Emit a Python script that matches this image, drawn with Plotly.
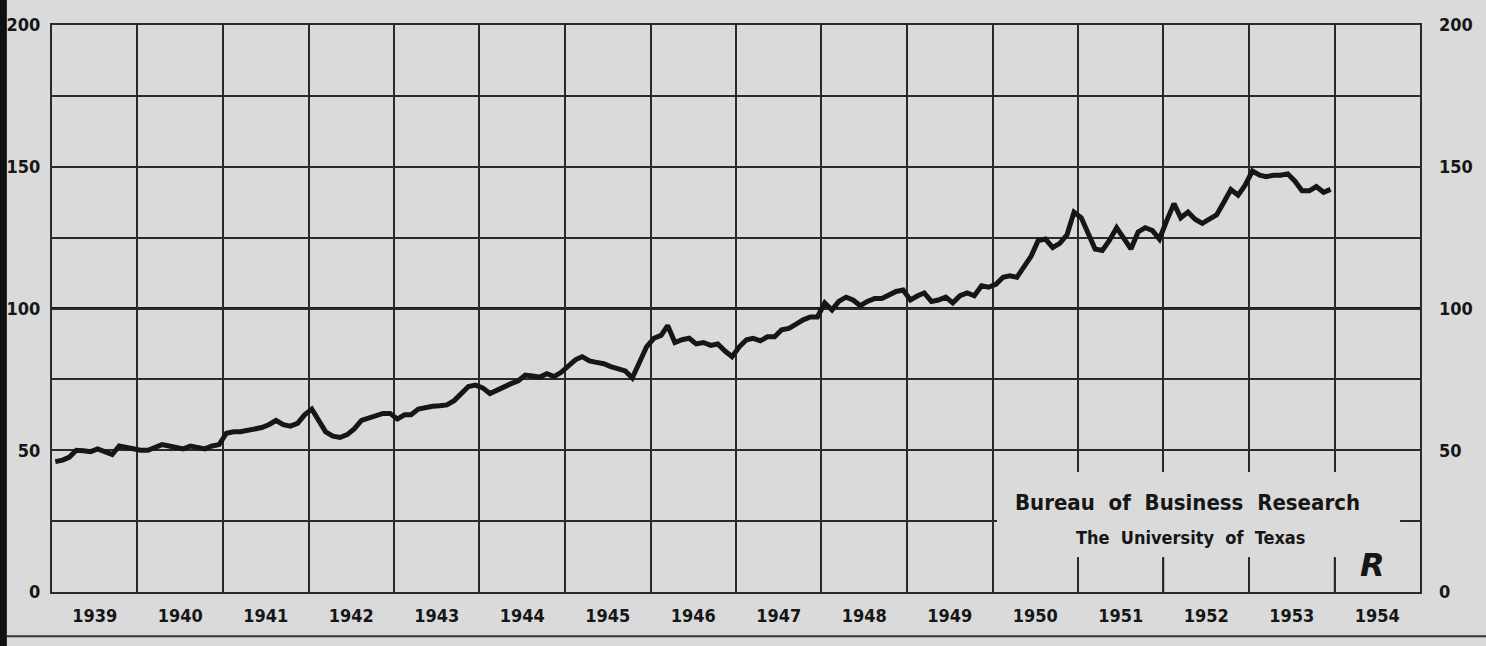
import pandas as pd
import plotly.graph_objects as go

# Monthly index values (Jan..Dec)
v1939 = [46, 46.5, 47.5, 50, 49.8, 49.5, 50.5, 49.5, 48.5, 51.5, 51, 50.5]
v1940 = [50, 50, 51, 52, 51.5, 51, 50.5, 51.5, 51, 50.5, 51.5, 52]
v1941 = [56, 56.5, 56.5, 57, 57.5, 58, 59, 60.5, 59, 58.5, 59.5, 62.5]
v1942 = [64.5, 60, 56.5, 55, 54.5, 55.5, 57.5, 60.5, 61.5, 62, 63, 63]
v1943 = [61, 62.5, 62.5, 64.5, 65.2, 65.5, 65.7, 66, 67.5, 70, 72.5, 73]
v1944 = [72, 70, 71.2, 72.5, 73.5, 74.5, 76.5, 76.2, 75.8, 77, 76, 77.5]
v1945 = [79.5, 82, 83, 81.5, 81, 80.5, 79.5, 78.8, 78, 75.5, 81.5, 86.5]
v1946 = [89.5, 90.5, 94, 88, 89, 89.5, 87.5, 88, 87, 87.5, 85, 83]
v1947 = [86.5, 89, 89.5, 88.6, 90, 90, 92.5, 93, 94.5, 96, 97, 97]
v1948 = [102, 99.5, 102.5, 104, 103, 101, 102.5, 103.5, 103.5, 104.5, 106, 106.5]
v1949 = [103, 104.5, 105.5, 102.5, 103, 104, 102, 104.5, 105.5, 104.5, 108, 107.5]
v1950 = [108.5, 111, 111.5, 111, 115, 118.5, 124, 124.5, 121.5, 123, 126, 134]
v1951 = [132, 126, 121, 120.5, 124, 128.5, 125, 121, 127, 128.5, 127.5, 124.5]
v1952 = [131, 137, 132, 134, 131.5, 130, 131.5, 133, 137.5, 142, 140, 143.5]
v1953 = [148.5, 147, 146.5, 147, 147, 147.5, 145, 141.5, 141.5, 143, 141, 142]

years = list(range(1939, 1954))
series_by_year = [v1939, v1940, v1941, v1942, v1943, v1944, v1945, v1946,
                  v1947, v1948, v1949, v1950, v1951, v1952, v1953]
y_ticks = [0, 25, 50, 75, 100, 125, 150, 175, 200]
y_ticktext = ["0", "", "50", "", "100", "", "150", "", "200"]

dates, values = [], []
for yr, vals in zip(years, series_by_year):
    for m, v in enumerate(vals):
        dates.append(pd.Timestamp(year=yr, month=m + 1, day=15))
        values.append(v)

BG = "#dadada"
INK = "#161616"
GRID = "#2a2a2a"
FONT = "Liberation Sans Narrow, DejaVu Sans Condensed, Arial Narrow, sans-serif"

fig = go.Figure()
fig.add_trace(go.Scatter(x=dates, y=values, mode="lines",
                         line=dict(color=INK, width=5), showlegend=False,
                         hoverinfo="skip"))
# invisible trace for right axis
fig.add_trace(go.Scatter(x=[dates[0]], y=[values[0]], yaxis="y2", mode="lines",
                         line=dict(width=0), showlegend=False, hoverinfo="skip"))

x0, x1 = "1939-01-01", "1955-01-01"

fig.update_layout(
    width=1486, height=646,
    margin=dict(l=52, r=66, t=25, b=54),
    paper_bgcolor=BG, plot_bgcolor=BG,
    font=dict(family=FONT, color=INK),
    xaxis=dict(type="date", range=[x0, x1], tick0="1939-01-01", dtick="M12",
               tickformat="%Y", ticklabelmode="period", showgrid=True,
               gridcolor=GRID, gridwidth=1.6, ticks="", showline=True,
               linecolor=GRID, linewidth=2, mirror=True, zeroline=False,
               tickfont=dict(size=18, family=FONT, weight="bold"),
               ticklabelstandoff=6, automargin=False),
    yaxis=dict(range=[0, 200], tickvals=y_ticks, ticktext=y_ticktext,
               showgrid=True, gridcolor=GRID, gridwidth=1.6, zeroline=False,
               showline=True, linecolor=GRID, linewidth=2, mirror=True,
               ticks="", tickfont=dict(size=18, family=FONT, weight="bold"),
               ticklabelstandoff=6, automargin=False),
    yaxis2=dict(range=[0, 200], tickvals=y_ticks, ticktext=y_ticktext,
                overlaying="y", side="right", showgrid=False, zeroline=False,
                ticks="", tickfont=dict(size=18, family=FONT, weight="bold"),
                ticklabelstandoff=18, automargin=False),
)

# bold 100 reference line
fig.add_shape(type="line", xref="paper", yref="y", x0=0, x1=1, y0=100, y1=100,
              line=dict(color=INK, width=3), layer="below")

# blank panel behind the credit text (grid interrupted)
fig.add_shape(type="rect", xref="x", yref="y", x0="1950-01-20", x1="1954-10-08",
              y0=12.3, y1=42.3, fillcolor=BG, line=dict(width=0), layer="above")
# short tick stubs at the bottom of the interrupted verticals
for yr in [1951, 1952, 1953, 1954]:
    fig.add_shape(type="line", xref="x", yref="y",
                  x0=f"{yr}-01-01", x1=f"{yr}-01-01", y0=0, y1=12.3,
                  line=dict(color=GRID, width=1.6), layer="above")
fig.add_shape(type="line", xref="x", yref="y", x0="1954-10-08", x1=x1,
              y0=25, y1=25, line=dict(color=GRID, width=1.6), layer="above")

# dark scan edge at left and rule at bottom
fig.add_shape(type="rect", xref="paper", yref="paper", x0=-0.04, x1=-0.033,
              y0=-0.1, y1=1.06, fillcolor="#101010", line=dict(width=0))
fig.add_shape(type="line", xref="paper", yref="paper", x0=-0.033, x1=1.05,
              y0=-0.078, y1=-0.078, line=dict(color="#333333", width=2))

fig.add_annotation(xref="paper", yref="paper", x=0.830, y=0.157,
                   xanchor="center", yanchor="middle",
                   text="<b>Bureau  of  Business  Research</b>", showarrow=False,
                   font=dict(size=22, family=FONT, color=INK))
fig.add_annotation(xref="paper", yref="paper", x=0.832, y=0.097,
                   xanchor="center", yanchor="middle",
                   text="<b>The  University  of  Texas</b>", showarrow=False,
                   font=dict(size=18, family=FONT, color=INK))
fig.add_annotation(xref="paper", yref="paper", x=0.965, y=0.048,
                   xanchor="center", yanchor="middle",
                   text="<b><i>R</i></b>", showarrow=False,
                   font=dict(size=32, family="DejaVu Sans, sans-serif", color=INK))

fig.write_html("out.html", config={"displayModeBar": False},
               post_script="document.body.style.margin='0';")
